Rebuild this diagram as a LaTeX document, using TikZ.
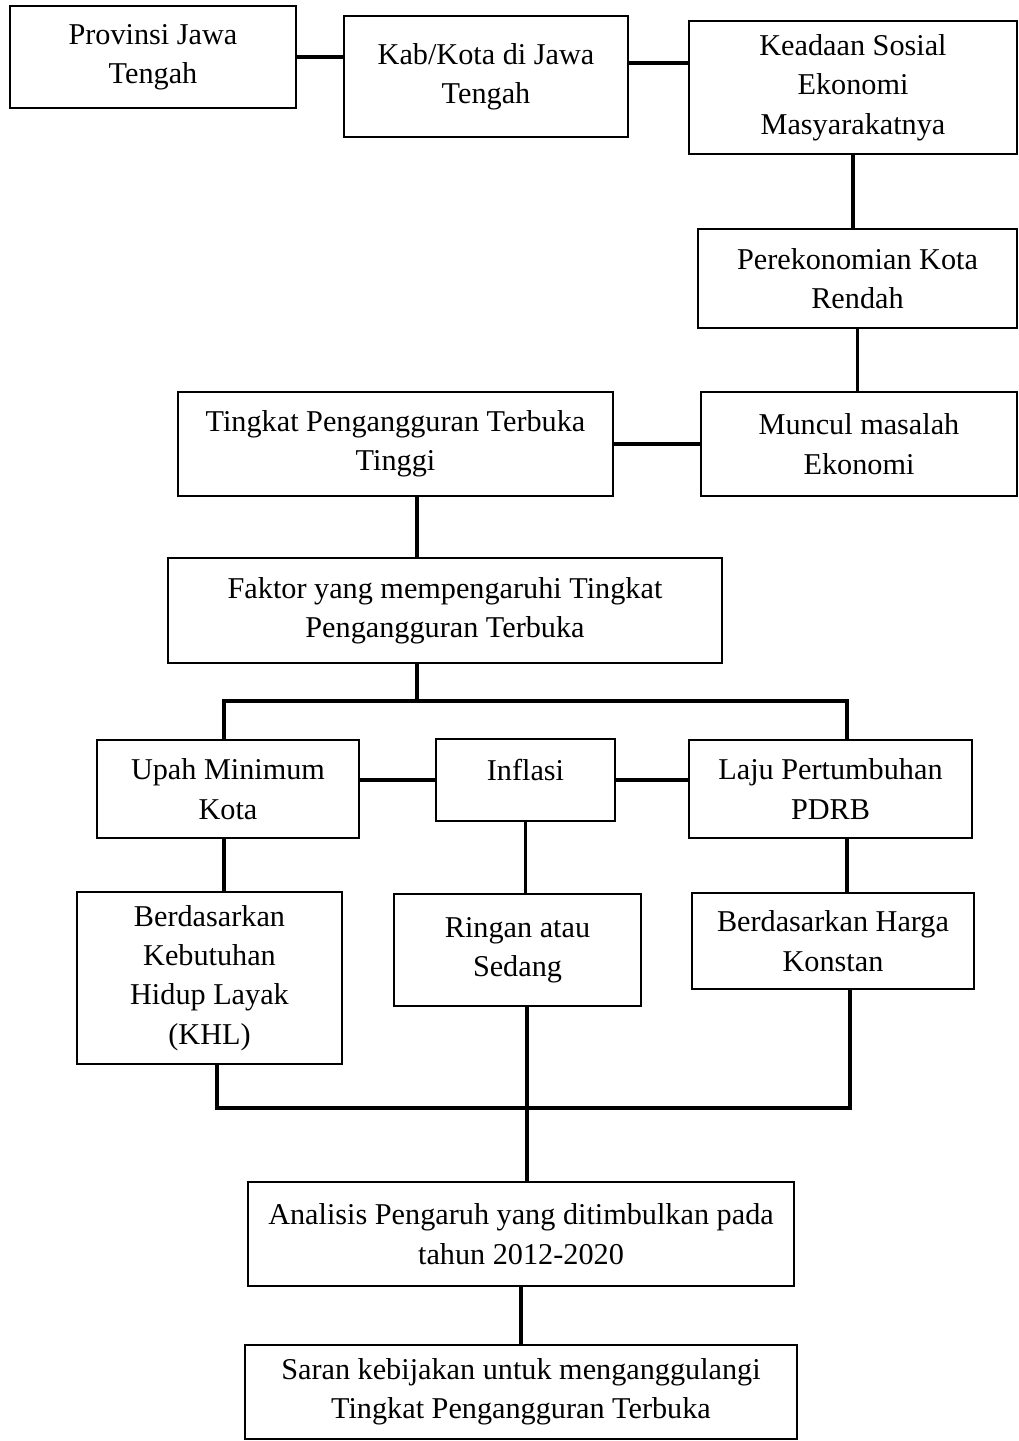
\documentclass[tikz,border=0pt]{standalone}
\usepackage{fontspec}
\setmainfont{Liberation Serif}

\begin{document}
\begin{tikzpicture}[x=0.025cm, y=-0.025cm,
  box/.style={draw=black, line width=1.6pt, align=center, inner sep=0pt,
    font=\fontsize{21.5}{28}\selectfont},
  link/.style={draw=black, line width=2.8pt}]
\useasboundingbox (0,0) rectangle (1019,1441);

% top row
\node [box, minimum width=7.15cm, minimum height=2.55cm] (prov) at (153,57) {Provinsi Jawa\\Tengah};
\node [box, minimum width=7.1cm, minimum height=3.025cm] (kab) at (486,76.5) {Kab/Kota di Jawa\\Tengah};
\node [box, minimum width=8.2cm, minimum height=3.325cm] (keadaan) at (853,87.5) {Keadaan Sosial\\Ekonomi\\Masyarakatnya};
\node [box, minimum width=7.975cm, minimum height=2.475cm] (perek) at (857.5,278.5) {Perekonomian Kota\\Rendah};
\node [box, minimum width=7.9cm, minimum height=2.6cm] (muncul) at (859,444) {Muncul masalah\\Ekonomi};
\node [box, minimum width=10.875cm, minimum height=2.6cm] (tingkat) at (395.5,444) {Tingkat Pengangguran Terbuka\\Tinggi};
\node [box, minimum width=13.85cm, minimum height=2.625cm] (faktor) at (445,610.5) {Faktor yang mempengaruhi Tingkat\\Pengangguran Terbuka};

% variabel
\node [box, minimum width=6.55cm, minimum height=2.45cm] (upah) at (228,789) {Upah Minimum\\Kota};
\node [box, minimum width=4.475cm, minimum height=2.05cm, text height=14pt, text depth=14pt] (inflasi) at (525.5,780) {Inflasi};
\node [box, minimum width=7.075cm, minimum height=2.45cm] (laju) at (830.5,789) {Laju Pertumbuhan\\PDRB};
\node [box, minimum width=6.625cm, minimum height=4.3cm] (khl) at (209.5,978) {Berdasarkan\\Kebutuhan\\Hidup Layak\\(KHL)};
\node [box, minimum width=6.175cm, minimum height=2.8cm] (ringan) at (517.5,950) {Ringan atau\\Sedang};
\node [box, minimum width=7.05cm, minimum height=2.4cm] (harga) at (833,941) {Berdasarkan Harga\\Konstan};

% bottom
\node [box, minimum width=13.65cm, minimum height=2.6cm] (analisis) at (521,1234) {Analisis Pengaruh yang ditimbulkan pada\\tahun 2012-2020};
\node [box, minimum width=13.8cm, minimum height=2.35cm] (saran) at (521,1392) {Saran kebijakan untuk menganggulangi\\Tingkat Pengangguran Terbuka};

\coordinate (trunk) at (417,0);
\coordinate (left) at (224,0);
\coordinate (right) at (847,0);
\coordinate (fork) at (0,701);
\coordinate (leftb) at (217,0);
\coordinate (rightb) at (850,0);
\coordinate (mid) at (527,0);
\coordinate (join) at (0,1108);

\draw [link] (prov.east) -- (prov.east -| kab.west);
\draw [link] ([yshift=0.34cm]kab.east) coordinate (k1) -- (k1 -| keadaan.west);
\draw [link] (keadaan.south) -- (keadaan.south |- perek.north);
\draw [link] (perek.south) -- (perek.south |- muncul.north);
\draw [link] (tingkat.east) -- (muncul.west);
\draw [link] (tingkat.south -| trunk) -- (faktor.north -| trunk);
\draw [link] (faktor.south -| trunk) -- (trunk |- fork);
\draw [link] (upah.north -| left) -- (left |- fork) -- (right |- fork) -- (laju.north -| right);
\draw [link] (inflasi.west) -- (inflasi.west -| upah.east);
\draw [link] (inflasi.east) -- (inflasi.east -| laju.west);
\draw [link] (upah.south -| left) -- (khl.north -| left);
\draw [link] (inflasi.south) -- (inflasi.south |- ringan.north);
\draw [link] (laju.south -| right) -- (harga.north -| right);
\draw [link] (khl.south -| leftb) -- (leftb |- join) -- (rightb |- join) -- (harga.south -| rightb);
\draw [link] (ringan.south -| mid) -- (analisis.north -| mid);
\draw [link] (analisis.south) -- (saran.north);
\end{tikzpicture}
\end{document}
